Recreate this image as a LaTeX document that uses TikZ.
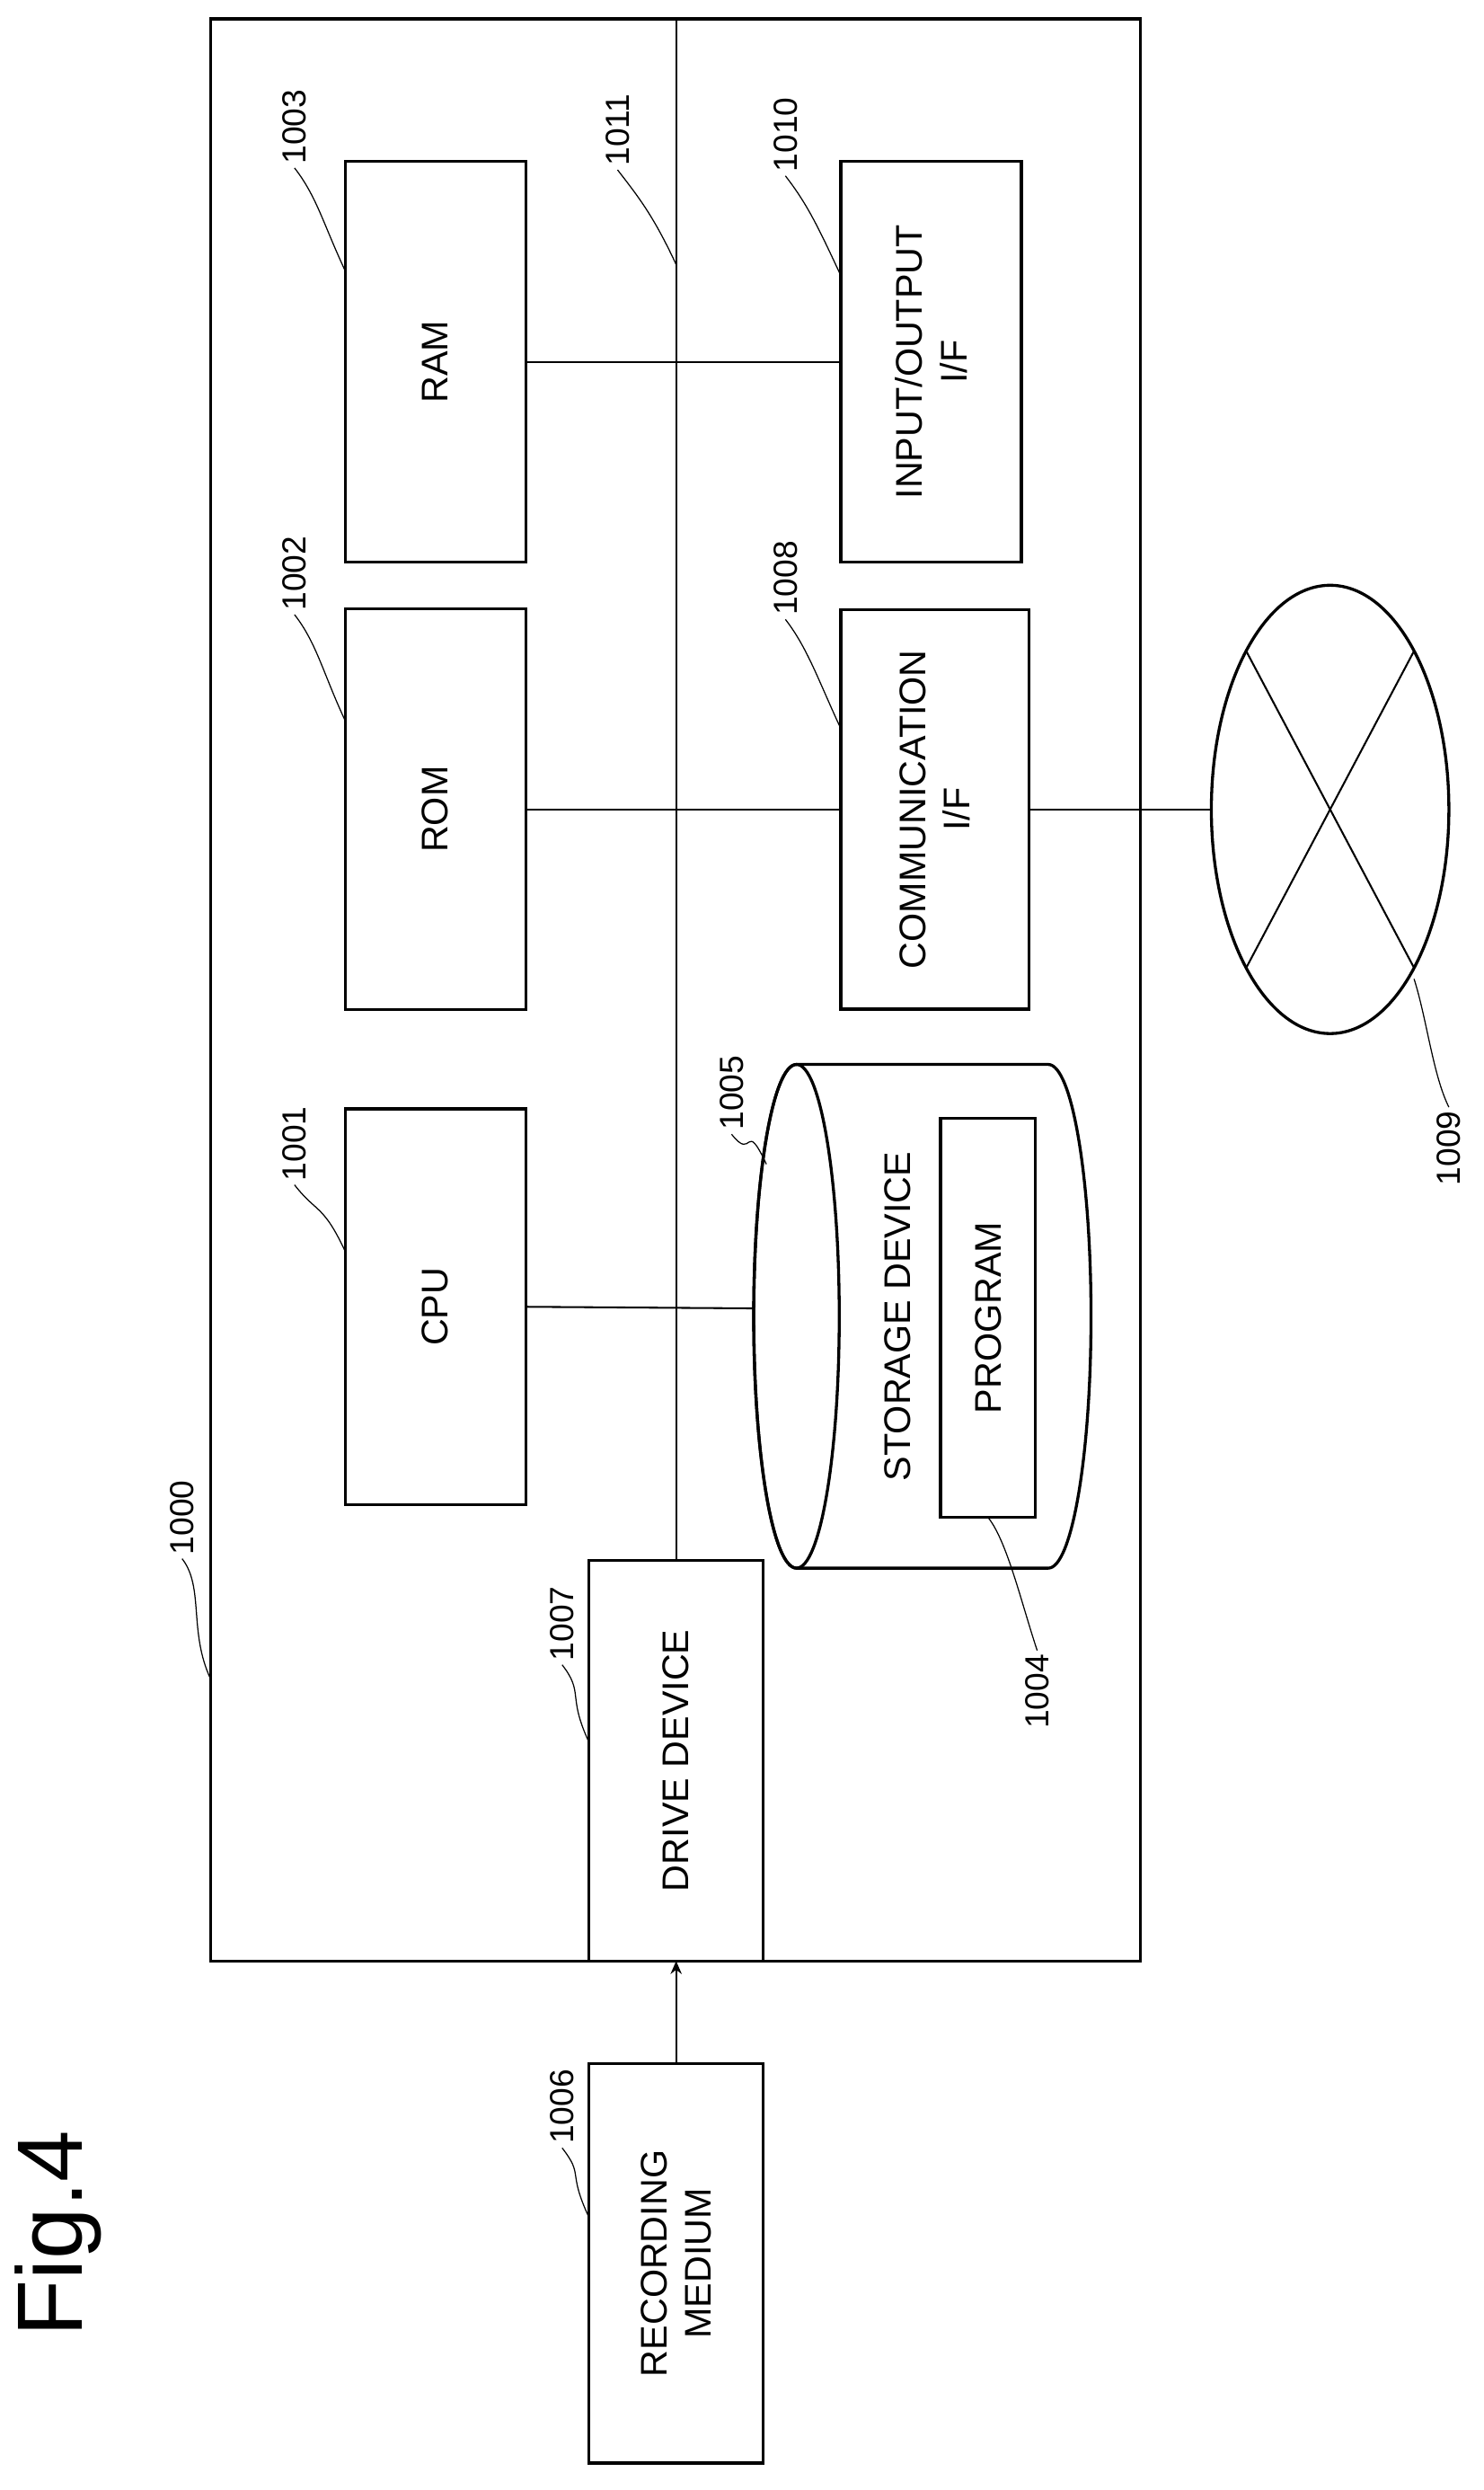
\documentclass[tikz,border=0pt]{standalone}
\usepackage{fontspec}
\setmainfont{Liberation Sans}
\usetikzlibrary{shapes.geometric,arrows.meta}
\begin{document}
\begin{tikzpicture}[x=0.03cm,y=-0.03cm,
  box/.style={draw,line width=1.6pt,rotate=90,inner sep=0pt,outer sep=0pt,font=\fontsize{20}{24}\selectfont,align=center},
  lab/.style={rotate=90,font=\fontsize{18}{20}\selectfont,inner sep=2pt},
  lead/.style={line width=0.6pt},
  bus/.style={line width=1pt}]
\useasboundingbox (0,0) rectangle (937,1572);
\draw[line width=1.6pt] (133,12) rectangle (720,1238);
\coordinate (bustop) at (427,12);
\node[box,minimum width=7.59cm,minimum height=3.42cm] (ram) at (275,228.5) {RAM};
\node[box,minimum width=7.59cm,minimum height=3.42cm] (rom) at (275,511) {ROM};
\node[box,minimum width=7.5cm,minimum height=3.42cm] (cpu) at (275,825) {CPU};
\node[box,minimum width=7.59cm,minimum height=3.42cm] (io) at (588,228.5) {INPUT/OUTPUT\\I/F};
\node[box,minimum width=7.56cm,minimum height=3.57cm] (comm) at (590.5,511) {COMMUNICATION\\I/F};
\node[box,minimum width=7.59cm,minimum height=3.3cm] (drive) at (427,1111.5) {DRIVE DEVICE};
\node[box,minimum width=7.56cm,minimum height=3.3cm] (rec) at (427,1429) {RECORDING\\MEDIUM};
% storage cylinder
\draw[line width=1.6pt] (503,672) -- (662,672) arc[start angle=-90,end angle=90,x radius=27,y radius=159] -- (503,990) arc[start angle=90,end angle=270,x radius=27,y radius=159];
\draw[line width=1.6pt] (503,831) ellipse[x radius=27,y radius=159];
\coordinate (cylL) at (476,826);
\node[rotate=90,font=\fontsize{20}{24}\selectfont] (stor) at (567,831) {STORAGE DEVICE};
\node[box,minimum width=7.56cm,minimum height=1.8cm] (prog) at (624,832) {PROGRAM};
% network
\node[draw,ellipse,line width=1.6pt,minimum width=4.5cm,minimum height=8.49cm,inner sep=0pt] (net) at (840,511) {};
\coordinate (x1) at (787,411); \coordinate (x2) at (893,411);
\coordinate (x3) at (787,611); \coordinate (x4) at (893,611);
\draw[bus] (x1) -- (x4); \draw[bus] (x2) -- (x3);
% connections
\draw[bus] (bustop) -- (drive.east);
\draw[bus] (ram.south) -- (io.north);
\draw[bus] (rom.south) -- (comm.north);
\draw[bus] (comm.south) -- (net.west);
\draw[bus] (cpu.south) -- (cylL);
\draw[bus,-{Stealth[length=7pt,width=6pt]}] (rec.east) -- (drive.west);
% labels
\node[lab] (l1003) at (186,80) {1003};
\node[lab] (l1002) at (186,362) {1002};
\node[lab] (l1001) at (186,722) {1001};
\node[lab] (l1011) at (390,82) {1011};
\node[lab] (l1010) at (496,85) {1010};
\node[lab] (l1008) at (496,365) {1008};
\node[lab] (l1005) at (462,690) {1005};
\node[lab] (l1000) at (115,958) {1000};
\node[lab] (l1007) at (355,1025) {1007};
\node[lab] (l1004) at (655,1068) {1004};
\node[lab] (l1006) at (355,1330) {1006};
\node[lab] (l1009) at (915,725) {1009};
\node[rotate=90,font=\fontsize{50}{56}\selectfont] (fig) at (37,1410) {Fig.4};
\coordinate (e1003) at (218,171);
\coordinate (e1002) at (218,455);
\coordinate (e1001) at (218,790);
\coordinate (e1011) at (427,167);
\coordinate (e1010) at (531,174);
\coordinate (e1008) at (531,460);
\coordinate (e1005) at (484,735);
\coordinate (e1000) at (133,1060);
\coordinate (e1007) at (372,1100);
\coordinate (e1006) at (372,1400);
\coordinate (e1009) at (893,618);
\foreach \n in {1003,1002,1001,1011,1010,1008,1005,1000,1007,1006}{
  \draw[lead] (l\n.west) .. controls ++(14,18) and ++(-14,-30) .. (e\n);
}
\draw[lead] (prog.west) .. controls ++(12,15) and ++(-10,-30) .. (l1004.east);
\draw[lead] (e1009) .. controls ++(8,25) and ++(-10,-20) .. (l1009.east);
\end{tikzpicture}
\end{document}
